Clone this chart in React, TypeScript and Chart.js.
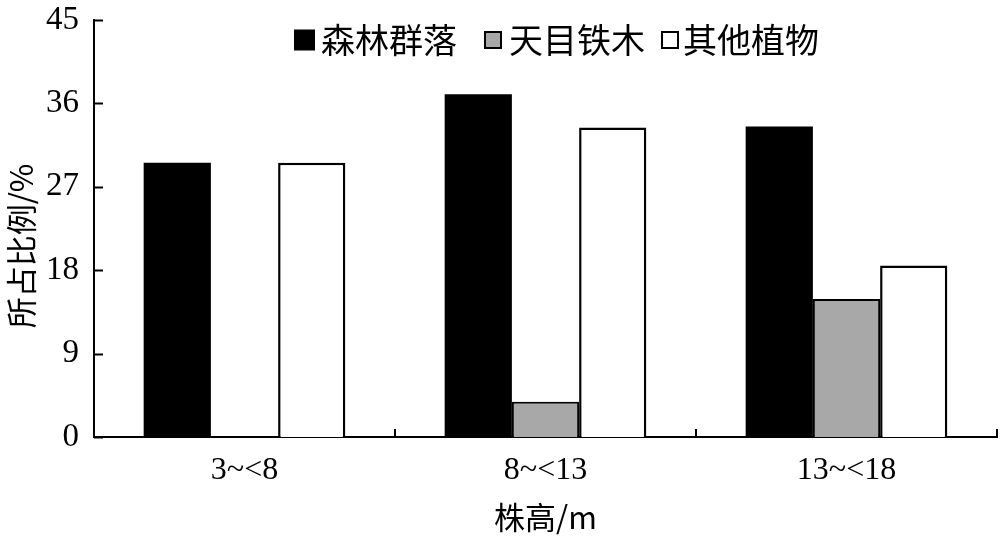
import React, { useEffect, useRef } from "react";
import { Chart, registerables } from "chart.js";

Chart.register(...registerables);

const categories = ["3~<8", "8~<13", "13~<18"];
const seriesNames = ["森林群落", "天目铁木", "其他植物"];
const forestValues = [29.6, 37.0, 33.5];
const ostryaValues = [0, 3.8, 14.9];
const otherValues = [29.6, 33.4, 18.5];
const yTicks = [0, 9, 18, 27, 36, 45];
const xTitle = "株高/m";
const yTitle = "所占比例/%";

const FONT = "'Liberation Serif', 'Times New Roman', 'Noto Sans CJK SC', serif";
const CJK = "'Noto Sans CJK SC', 'Liberation Serif', serif";

const decorPlugin = {
  id: "decor",
  afterDraw(chart: any) {
    const ctx = chart.ctx;
    const area = chart.chartArea;
    const xs = chart.scales.x;
    const ys = chart.scales.y;
    ctx.save();
    ctx.strokeStyle = "#000";
    ctx.lineWidth = 2;
    // y ticks (inward)
    yTicks.forEach((v) => {
      const py = Math.round(ys.getPixelForValue(v)) + 0.5;
      ctx.beginPath();
      ctx.moveTo(area.left, py);
      ctx.lineTo(area.left + 9, py);
      ctx.stroke();
    });
    // x boundary ticks (inward)
    const n = categories.length;
    const p0 = xs.getPixelForValue(0);
    const p1 = xs.getPixelForValue(1);
    const cw = p1 - p0;
    for (let k = 0; k <= n; k++) {
      const px = Math.round(p0 - cw / 2 + k * cw);
      ctx.beginPath();
      ctx.moveTo(px, area.bottom);
      ctx.lineTo(px, area.bottom - 8);
      ctx.stroke();
    }
    // y title
    ctx.fillStyle = "#000";
    ctx.font = `31px ${CJK}`;
    ctx.textAlign = "center";
    ctx.textBaseline = "middle";
    ctx.translate(21, 246);
    ctx.rotate(-Math.PI / 2);
    ctx.fillText(yTitle, 0, 0);
    ctx.restore();

    // legend
    ctx.save();
    const colors = ["#000000", "#a8a8a8", "#ffffff"];
    const sqX = [295, 485, 662];
    const txtX = [321, 509, 683];
    const cy = 40;
    ctx.font = `34px ${CJK}`;
    ctx.textBaseline = "middle";
    ctx.textAlign = "left";
    seriesNames.forEach((name, i) => {
      const s = i === 0 ? 19 : 16;
      ctx.fillStyle = colors[i];
      ctx.fillRect(sqX[i], cy - s / 2, s, s);
      ctx.strokeStyle = "#000";
      ctx.lineWidth = 2;
      ctx.strokeRect(sqX[i], cy - s / 2, s, s);
      ctx.fillStyle = "#000";
      ctx.fillText(name, txtX[i], cy);
    });
    ctx.restore();
  },
};

export default function App() {
  const ref = useRef<HTMLCanvasElement>(null);
  useEffect(() => {
    if (!ref.current) return;
    const chart = new Chart(ref.current, {
      type: "bar",
      data: {
        labels: categories,
        datasets: [
          {
            label: seriesNames[0],
            data: forestValues,
            backgroundColor: "#000000",
            borderColor: "#000000",
            borderWidth: 0,
          },
          {
            label: seriesNames[1],
            data: ostryaValues,
            backgroundColor: "#a8a8a8",
            borderColor: "#000000",
            borderWidth: 2,
          },
          {
            label: seriesNames[2],
            data: otherValues,
            backgroundColor: "#ffffff",
            borderColor: "#000000",
            borderWidth: 2.5,
          },
        ],
      },
      options: {
        responsive: true,
        maintainAspectRatio: false,
        animation: false,
        layout: { padding: { top: 20, right: 3, left: 0, bottom: 0 } },
        datasets: { bar: { categoryPercentage: 0.67, barPercentage: 1.0 } },
        plugins: {
          legend: { display: false },
          tooltip: { enabled: false },
          title: { display: false },
        },
        scales: {
          x: {
            grid: { display: false, drawTicks: false },
            border: { display: true, color: "#000", width: 2 },
            ticks: {
              color: "#000",
              font: { family: FONT, size: 32 },
              padding: 14,
              maxRotation: 0,
            },
            title: {
              display: true,
              text: xTitle,
              color: "#000",
              font: { family: CJK, size: 31 },
              padding: { top: 4, bottom: 0 },
            },
            afterFit: (scale: any) => {
              scale.height = 99;
              scale.paddingLeft = 0;
              scale.paddingRight = 0;
            },
          },
          y: {
            min: 0,
            max: 45,
            grid: { display: false, drawTicks: false },
            border: { display: true, color: "#000", width: 2 },
            ticks: {
              stepSize: 9,
              color: "#000",
              font: { family: FONT, size: 33 },
              padding: 15,
            },
            afterFit: (scale: any) => {
              scale.width = 94;
              scale.paddingTop = 0;
              scale.paddingBottom = 0;
            },
          },
        },
      },
      plugins: [decorPlugin],
    });
    return () => chart.destroy();
  }, []);
  return (
    <div
      style={{
        position: "absolute",
        left: 0,
        top: 0,
        width: 1000,
        height: 536,
        background: "#fff",
      }}
    >
      <canvas ref={ref} />
    </div>
  );
}
